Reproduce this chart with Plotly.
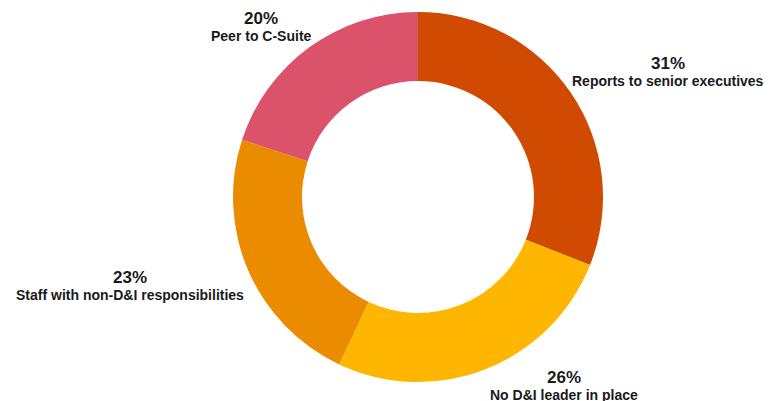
import plotly.graph_objects as go

categories = ["Reports to senior executives", "No D&I leader in place",
              "Staff with non-D&I responsibilities", "Peer to C-Suite"]
values = [31, 26, 23, 20]
colors = ["#D04A02", "#FFB600", "#EB8C00", "#DB536A"]

# label anchor positions in window pixels (center x, percent-line y, label-line y)
label_px = [(668, 64, 81), (564, 377, 395), (130, 277, 295), (261, 18, 36)]

W, H = 772, 401
OFF = 8  # page body margin

def px_x(x):
    return (x - OFF) / W

def px_y(y):
    return 1 - (y - OFF) / H

fig = go.Figure(go.Pie(
    labels=categories, values=values, sort=False, direction="clockwise",
    rotation=0, hole=0.627, textinfo="none", hoverinfo="label+percent",
    marker=dict(colors=colors, line=dict(width=0)),
    domain=dict(x=[px_x(233), px_x(603)], y=[px_y(382), px_y(12)]),
    showlegend=False,
))

total = sum(values)
for cat, v, (px, py1, py2) in zip(categories, values, label_px):
    pct = round(100 * v / total)
    fig.add_annotation(x=px_x(px), y=px_y(py1), xref="paper", yref="paper",
                       text=f"<b>{pct}%</b>", showarrow=False,
                       xanchor="center", yanchor="middle",
                       font=dict(family="Liberation Sans, Arial", size=17, color="#1a1a1a"))
    fig.add_annotation(x=px_x(px), y=px_y(py2), xref="paper", yref="paper",
                       text=f"<b>{cat}</b>", showarrow=False,
                       xanchor="center", yanchor="middle",
                       font=dict(family="Liberation Sans, Arial", size=14, color="#1a1a1a"))

fig.update_layout(width=W, height=H, margin=dict(l=0, r=0, t=0, b=0),
                  paper_bgcolor="white", plot_bgcolor="white")
fig.write_html("out.html")
